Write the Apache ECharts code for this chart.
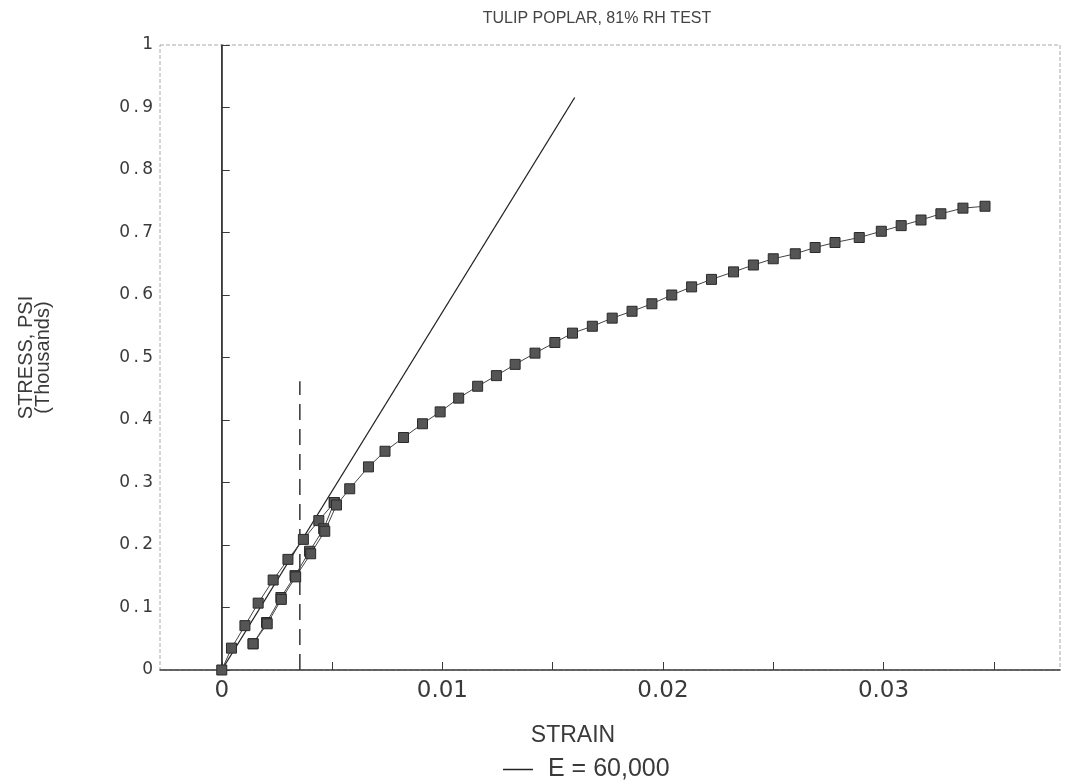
<!DOCTYPE html>
<html>
<head>
<meta charset="utf-8">
<script src="https://cdn.jsdelivr.net/npm/echarts@6/dist/echarts.min.js"></script>
<style>
  html, body { margin: 0; padding: 0; background: #fff; }
  #chart { width: 1070px; height: 782px; }
</style>
</head>
<body>
<div id="chart"></div>
<script>
// first loading, from zero
let loadStrain = [0, 0.00044, 0.00105, 0.00165, 0.00233, 0.0030, 0.0037, 0.0044, 0.0051];
let loadStress = [0, 0.035, 0.071, 0.107, 0.144, 0.177, 0.209, 0.239, 0.268];

// unloading back down
let unloadStrain = [0.0051, 0.00462, 0.00398, 0.00332, 0.00268, 0.00203, 0.00142];
let unloadStress = [0.268, 0.226, 0.190, 0.151, 0.116, 0.076, 0.042];

// reloading, on to the end of the test
let reloadStrain = [0.00142, 0.00206, 0.0027, 0.00335, 0.00403, 0.00467, 0.0052, 0.0058, 0.00665, 0.0074,
  0.00824, 0.0091, 0.0099, 0.01074, 0.0116, 0.01245, 0.0133, 0.0142, 0.0151, 0.0159,
  0.0168, 0.0177, 0.0186, 0.0195, 0.0204, 0.0213, 0.0222, 0.0232, 0.0241, 0.0250,
  0.0260, 0.0269, 0.0278, 0.0289, 0.0299, 0.0308, 0.0317, 0.0326, 0.0336, 0.0346];
let reloadStress = [0.042, 0.074, 0.113, 0.149, 0.186, 0.222, 0.264, 0.290, 0.325, 0.350,
  0.372, 0.394, 0.413, 0.435, 0.454, 0.471, 0.489, 0.507, 0.524, 0.539,
  0.550, 0.563, 0.574, 0.586, 0.600, 0.613, 0.625, 0.637, 0.648, 0.658,
  0.666, 0.676, 0.684, 0.692, 0.702, 0.711, 0.720, 0.730, 0.739, 0.742];

// E = 60,000 line
let modStrain = [0, 0.016];
let modStress = [0, 0.916];

// reference lines
let zeroLine = [[0, 0], [0, 1]];
let limitLine = [[0.00354, 0], [0.00354, 0.462]];

let xTicks = [0, 0.005, 0.01, 0.015, 0.02, 0.025, 0.03, 0.035];
let xLabels = [0, 0.01, 0.02, 0.03];

function zip(a, b) {
  return a.map(function (v, i) { return [v, b[i]]; });
}

window.onload = function () {
  var myChart = echarts.init(document.getElementById("chart"));
  var ink = "#3a3a3a";
  var sans = '"Liberation Sans", Arial, sans-serif';
  var wide = '"DejaVu Sans", sans-serif';

  var markStyle = {
    type: "line",
    symbol: "rect",
    symbolSize: 10,
    itemStyle: { color: "#555", borderColor: "#2a2a2a", borderWidth: 1 },
    lineStyle: { color: "#444", width: 1 },
    silent: true,
    z: 3
  };

  option = {
    backgroundColor: "#fff",
    animation: false,
    title: {
      text: "TULIP POPLAR, 81% RH TEST",
      left: 592,
      textAlign: "center",
      top: 6,
      textStyle: { fontSize: 16, fontWeight: "normal", color: "#444", fontFamily: sans }
    },
    legend: {
      data: [{ name: "E = 60,000", icon: "rect" }],
      left: 498,
      top: 752,
      itemWidth: 30,
      itemHeight: 1.5,
      textStyle: { fontSize: 25, color: ink, fontFamily: sans, padding: [0, 0, 0, 10] }
    },
    grid: {
      left: 160, right: 10, top: 45, bottom: 112,
      show: true,
      borderColor: "#aaa",
      borderWidth: 1,
      borderType: "dashed"
    },
    xAxis: {
      type: "value",
      min: -0.0028,
      max: 0.038,
      name: "STRAIN",
      nameLocation: "middle",
      nameGap: 54,
      nameTextStyle: { fontSize: 23, color: ink, fontFamily: sans, padding: [0, 74, 0, 0] },
      axisLine: { lineStyle: { color: ink, width: 1.5 } },
      axisTick: { inside: true, length: 8, customValues: xTicks, lineStyle: { color: ink } },
      axisLabel: {
        customValues: xLabels,
        margin: 10,
        fontSize: 23,
        color: ink,
        fontFamily: wide,
        formatter: function (v) { return String(v); }
      },
      splitLine: { show: false }
    },
    yAxis: {
      type: "value",
      min: 0,
      max: 1,
      interval: 0.1,
      name: "STRESS, PSI\n(Thousands)",
      nameLocation: "middle",
      nameGap: 108,
      nameTextStyle: { fontSize: 20, color: ink, lineHeight: 17, fontFamily: sans },
      axisLine: { show: true, lineStyle: { color: ink, width: 1.5 } },
      axisTick: { show: true, inside: true, length: 8, lineStyle: { color: ink } },
      axisLabel: {
        margin: 7,
        fontSize: 17,
        color: ink,
        fontFamily: wide,
        formatter: function (v) {
          return String(Math.round(v * 10) / 10).split("").join("\u2009");
        }
      },
      splitLine: { show: false }
    },
    series: [
      {
        name: "zero",
        type: "line",
        data: zeroLine,
        symbol: "none",
        lineStyle: { color: "#333", width: 1.2 },
        silent: true
      },
      {
        name: "limit",
        type: "line",
        data: limitLine,
        symbol: "none",
        lineStyle: { color: "#333", width: 1.5, type: [16, 9] },
        silent: true
      },
      {
        name: "E = 60,000",
        type: "line",
        data: zip(modStrain, modStress),
        symbol: "none",
        color: "#222",
        lineStyle: { color: "#222", width: 1.3 },
        silent: true,
        z: 2
      },
      Object.assign({ name: "load", data: zip(loadStrain, loadStress) }, markStyle),
      Object.assign({ name: "unload", data: zip(unloadStrain, unloadStress) }, markStyle),
      Object.assign({ name: "reload", data: zip(reloadStrain, reloadStress) }, markStyle)
    ]
  };
  myChart.setOption(option);
};
</script>
</body>
</html>
